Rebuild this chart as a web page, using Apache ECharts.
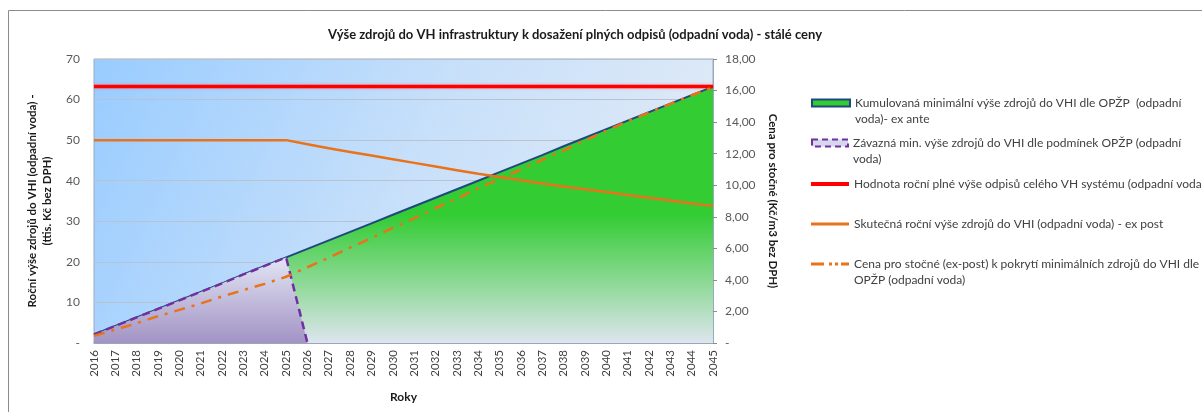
<!DOCTYPE html>
<html>
<head>
<meta charset="utf-8">
<script src="https://cdn.jsdelivr.net/npm/echarts@6/dist/echarts.min.js"></script>
<style>
html, body { margin: 0; padding: 0; background: #fff; }
#main { width: 1202px; height: 412px; }
</style>
</head>
<body>
<div id="main"></div>
<script>
// kategorie a hodnoty
const roky = ['2016','2017','2018','2019','2020','2021','2022','2023','2024','2025',
    '2026','2027','2028','2029','2030','2031','2032','2033','2034','2035',
    '2036','2037','2038','2039','2040','2041','2042','2043','2044','2045'];

const kumulovana = [2.1, 4.2, 6.3, 8.4, 10.5, 12.6, 14.7, 16.9, 19.0, 21.1,
    23.2, 25.3, 27.4, 29.5, 31.6, 33.7, 35.8, 37.9, 40.0, 42.1,
    44.2, 46.3, 48.5, 50.6, 52.7, 54.8, 56.9, 59.0, 61.1, 63.2];

const zavazna = [2.1, 4.2, 6.3, 8.4, 10.5, 12.6, 14.7, 16.9, 19.0, 21.1,
    0, null, null, null, null, null, null, null, null, null,
    null, null, null, null, null, null, null, null, null, null];

const hodnotaOdpisu = [63.2, 63.2, 63.2, 63.2, 63.2, 63.2, 63.2, 63.2, 63.2, 63.2,
    63.2, 63.2, 63.2, 63.2, 63.2, 63.2, 63.2, 63.2, 63.2, 63.2,
    63.2, 63.2, 63.2, 63.2, 63.2, 63.2, 63.2, 63.2, 63.2, 63.2];

const skutecna = [50, 50, 50, 50, 50, 50, 50, 50, 50, 50,
    49.0, 48.0, 47.1, 46.2, 45.3, 44.4, 43.5, 42.6, 41.7, 40.9,
    40.1, 39.3, 38.6, 37.9, 37.2, 36.5, 35.8, 35.1, 34.4, 33.8];

const cenaStocne = [0.45, 0.85, 1.25, 1.7, 2.1, 2.5, 2.95, 3.35, 3.75, 4.2,
    4.8, 5.4, 6.05, 6.65, 7.3, 7.9, 8.55, 9.15, 9.8, 10.4,
    11.0, 11.6, 12.2, 12.85, 13.45, 14.05, 14.6, 15.15, 15.7, 16.2];

const nazvy = [
    'Kumulovaná minimální výše zdrojů do VHI dle OPŽP  (odpadní voda)- ex ante',
    'Závazná min. výše zdrojů do VHI dle podmínek OPŽP (odpadní voda)',
    'Hodnota roční plné výše odpisů celého VH systému (odpadní voda)',
    'Skutečná roční výše zdrojů do VHI (odpadní voda) - ex post',
    'Cena pro stočné (ex-post) k pokrytí minimálních zdrojů do VHI dle OPŽP (odpadní voda)'
];

window.addEventListener('load', function () {
    let chart = echarts.init(document.getElementById('main'));
    const font = 'Lato, "Noto Sans", sans-serif';
    const legText = { fontFamily: font, fontSize: 12, color: '#404040', lineHeight: 16 };

    // prázdný první řádek => ikona zůstane u prvního řádku textu
    function legenda(i, top, w, h, icon, itemStyle, formatter) {
        return {
            left: 811, top: top, padding: 0, orient: 'vertical',
            itemWidth: w, itemHeight: h, selectedMode: false,
            data: [{ name: nazvy[i], icon: icon, itemStyle: itemStyle }],
            formatter: formatter, textStyle: legText
        };
    }

    let option = {
        animation: false,
        backgroundColor: '#fff',
        textStyle: { fontFamily: font },
        title: {
            text: 'Výše zdrojů do VH infrastruktury k dosažení plných odpisů (odpadní voda) - stálé ceny',
            left: 570, top: 23, textAlign: 'center',
            textStyle: { fontFamily: font, fontSize: 13, fontWeight: 'bold', color: '#1a1a1a' }
        },
        graphic: [{
            type: 'rect', silent: true, z: -1,
            shape: { x: 8.5, y: 10.5, width: 1200, height: 410 },
            style: { fill: 'none', stroke: '#8c8c8c', lineWidth: 1 }
        }],
        legend: [
            legenda(0, 79, 38, 7, 'rect', { color: '#33CC33', borderColor: '#1F497D', borderWidth: 2 },
                ' \nKumulovaná minimální výše zdrojů do VHI dle OPŽP  (odpadní\nvoda)- ex ante'),
            legenda(1, 119, 36, 7, 'rect', { color: '#D6D6EE', borderColor: '#7030A0', borderWidth: 2, borderType: [6, 4] },
                ' \nZávazná min. výše zdrojů do VHI dle podmínek OPŽP (odpadní\nvoda)'),
            legenda(2, 176, 38, 4, 'rect', { color: '#FF0000', borderWidth: 0 }, '{name}'),
            legenda(3, 216, 38, 3, 'rect', { color: '#E8731A', borderWidth: 0 }, '{name}'),
            legenda(4, 240, 38, 3, 'path://M0,0H13V3H0Z M18,0H21V3H18Z M24,0H27V3H24Z M30,0H38V3H30Z',
                { color: '#E8731A', borderWidth: 0 },
                ' \nCena pro stočné (ex-post) k pokrytí minimálních zdrojů do VHI dle\nOPŽP (odpadní voda)')
        ],
        grid: {
            left: 94, right: 489, top: 59, bottom: 69,
            show: true,
            backgroundColor: new echarts.graphic.LinearGradient(0, 0, 1, 1, [
                { offset: 0, color: '#99CCFF' },
                { offset: 0.5, color: '#C8E0FA' },
                { offset: 1, color: '#E6EDF5' }
            ]),
            borderColor: '#9AAABD', borderWidth: 1
        },
        xAxis: {
            type: 'category',
            data: roky,
            boundaryGap: false,
            name: 'Roky',
            nameLocation: 'middle',
            nameGap: 48,
            nameTextStyle: { fontFamily: font, fontSize: 12, fontWeight: 'bold', color: '#1a1a1a' },
            axisLine: { lineStyle: { color: '#8E9DB3', width: 1.5 } },
            axisTick: { show: false },
            axisLabel: { rotate: 90, margin: 7, interval: 0, fontFamily: font, fontSize: 11.5, color: '#404040' },
            splitLine: { show: false }
        },
        yAxis: [{
            type: 'value',
            min: 0, max: 70, interval: 10,
            name: 'Roční výše zdrojů do VHI (odpadní voda) -\n(ttis. Kč bez DPH)',
            nameLocation: 'middle',
            nameGap: 35,
            nameTextStyle: { fontFamily: font, fontSize: 11.5, fontWeight: 'bold', color: '#1a1a1a', lineHeight: 15 },
            axisLine: { show: false },
            axisTick: { show: false },
            axisLabel: {
                margin: 14, fontFamily: font, fontSize: 12, color: '#595959',
                formatter: function (v) { return v === 0 ? '-' : String(v); }
            },
            splitLine: { lineStyle: { color: '#B8C3CF', width: 1 } }
        }, {
            type: 'value',
            min: 0, max: 18, interval: 2,
            name: 'Cena pro stočné (Kč/m3 bez DPH)',
            nameLocation: 'middle',
            nameRotate: -90,
            nameGap: 50,
            nameTextStyle: { fontFamily: font, fontSize: 11.5, fontWeight: 'bold', color: '#1a1a1a' },
            axisLine: { show: true, lineStyle: { color: '#9AAABD' } },
            axisTick: { show: true, length: 4, lineStyle: { color: '#8c8c8c' } },
            axisLabel: {
                margin: 12, fontFamily: font, fontSize: 12, color: '#595959',
                formatter: function (v) { return v === 0 ? '-' : v.toFixed(2).replace('.', ','); }
            },
            splitLine: { show: false }
        }],
        series: [{
            name: nazvy[0],
            type: 'line',
            data: kumulovana,
            symbol: 'none',
            z: 2,
            lineStyle: { color: '#1F497D', width: 2 },
            itemStyle: { color: '#33CC33' },
            areaStyle: {
                opacity: 1,
                color: new echarts.graphic.LinearGradient(0, 0, 0, 1, [
                    { offset: 0, color: '#33CC33' },
                    { offset: 0.5, color: '#33CC33' },
                    { offset: 1, color: '#DDE5EE' }
                ])
            }
        }, {
            name: nazvy[1],
            type: 'line',
            data: zavazna,
            symbol: 'none',
            z: 3,
            lineStyle: { color: '#7030A0', width: 2.5, type: [8, 5] },
            itemStyle: { color: '#7030A0' },
            areaStyle: {
                opacity: 1,
                color: new echarts.graphic.LinearGradient(0, 0, 0, 1, [
                    { offset: 0, color: '#E2E5F4' },
                    { offset: 1, color: '#A293C4' }
                ])
            }
        }, {
            name: nazvy[2],
            type: 'line',
            data: hodnotaOdpisu,
            symbol: 'none',
            z: 4,
            lineStyle: { color: '#FF0000', width: 3.5, shadowColor: 'rgba(255,90,90,0.6)', shadowBlur: 3 },
            itemStyle: { color: '#FF0000' }
        }, {
            name: nazvy[3],
            type: 'line',
            data: skutecna,
            symbol: 'none',
            z: 5,
            lineStyle: { color: '#E8731A', width: 2.5 },
            itemStyle: { color: '#E8731A' }
        }, {
            name: nazvy[4],
            type: 'line',
            yAxisIndex: 1,
            data: cenaStocne,
            symbol: 'none',
            z: 6,
            lineStyle: { color: '#E8731A', width: 2.5, type: [11, 7, 3, 7] },
            itemStyle: { color: '#E8731A' }
        }]
    };
    chart.setOption(option);
}, false);
</script>
</body>
</html>
